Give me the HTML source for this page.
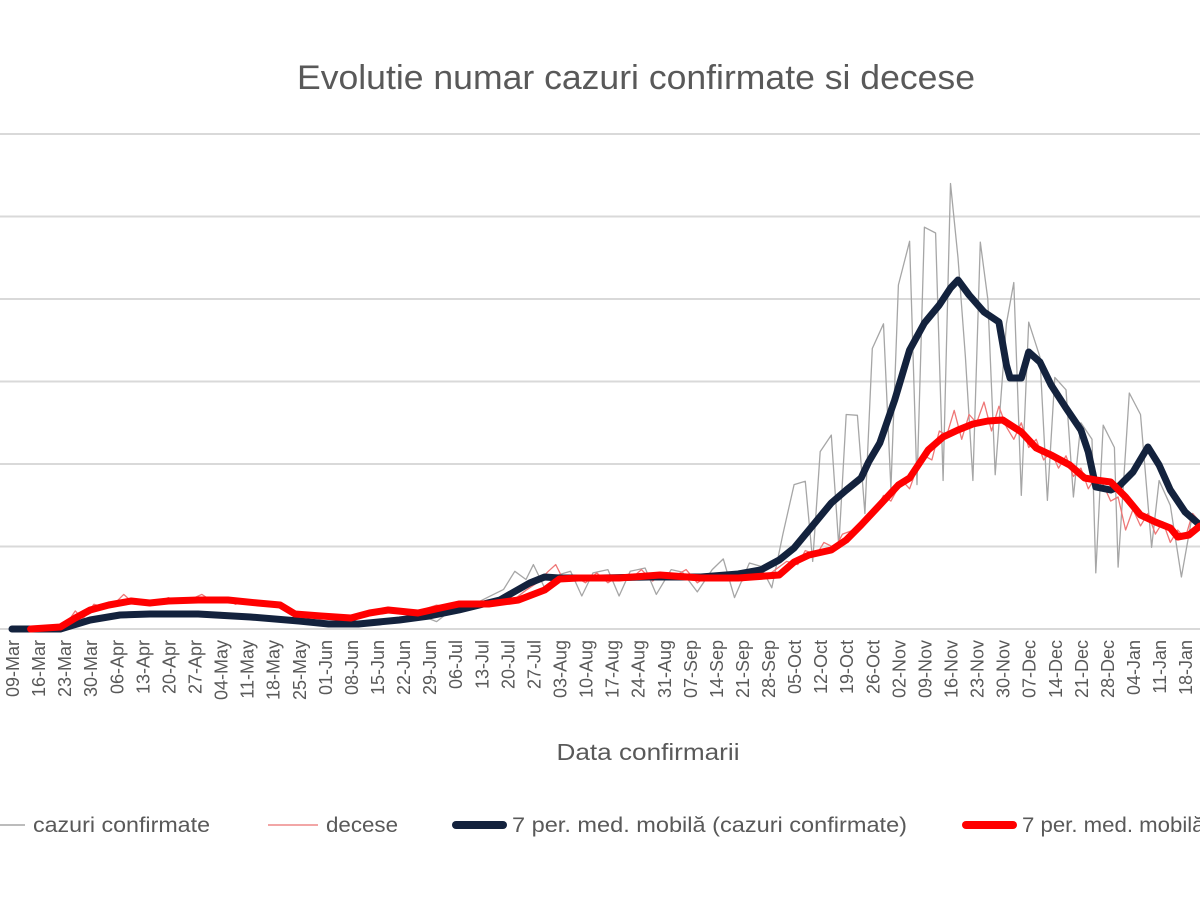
<!DOCTYPE html>
<html><head><meta charset="utf-8"><style>
html,body{margin:0;padding:0;background:#fff;width:1200px;height:900px;overflow:hidden}
svg{display:block}
text{font-family:"Liberation Sans",sans-serif;fill:#595959}
</style></head><body>
<svg id="chart" width="1200" height="900">
<text x="636" y="89" font-size="34" text-anchor="middle" textLength="678" lengthAdjust="spacingAndGlyphs">Evolutie numar cazuri confirmate si decese</text>
<g id="grid"></g>
<g id="series"></g>
<g id="xlabels"></g>
<text x="648" y="760" font-size="23" text-anchor="middle" textLength="183" lengthAdjust="spacingAndGlyphs">Data confirmarii</text>
<g>
<g><line x1="0" y1="825" x2="25" y2="825" stroke="#a6a6a6" stroke-width="1.5"/><text x="33" y="832" font-size="21" textLength="177" lengthAdjust="spacingAndGlyphs">cazuri confirmate</text></g>
<g><line x1="268" y1="825" x2="318" y2="825" stroke="#e88" stroke-width="1.5"/><text x="326" y="832" font-size="21" textLength="72" lengthAdjust="spacingAndGlyphs">decese</text></g>
<g><line x1="456" y1="825" x2="503" y2="825" stroke="#13223d" stroke-width="8" stroke-linecap="round"/><text x="512" y="832" font-size="21" textLength="395" lengthAdjust="spacingAndGlyphs">7 per. med. mobilă (cazuri confirmate)</text></g>
<g><line x1="966" y1="825" x2="1013" y2="825" stroke="#ff0000" stroke-width="8" stroke-linecap="round"/><text x="1022" y="832" font-size="21" textLength="275" lengthAdjust="spacingAndGlyphs">7 per. med. mobilă (decese)</text></g>
</g>
</svg>
<script>
const weekLabels=["09-Mar","16-Mar","23-Mar","30-Mar","06-Apr","13-Apr","20-Apr","27-Apr","04-May","11-May","18-May","25-May","01-Jun","08-Jun","15-Jun","22-Jun","29-Jun","06-Jul","13-Jul","20-Jul","27-Jul","03-Aug","10-Aug","17-Aug","24-Aug","31-Aug","07-Sep","14-Sep","21-Sep","28-Sep","05-Oct","12-Oct","19-Oct","26-Oct","02-Nov","09-Nov","16-Nov","23-Nov","30-Nov","07-Dec","14-Dec","21-Dec","28-Dec","04-Jan","11-Jan","18-Jan","25-Jan"];
const yTicks=[0,1000,2000,3000,4000,5000,6000];
const casesDays=[0,13,16,20,24,28,32,36,40,44,50,56,64,72,80,88,96,104,110,114,118,124,128,132,135,138,140,143,147,150,153,156,160,163,166,170,173,177,180,184,188,191,194,198,201,204,207,210,213,215,217,220,222,224,227,229,231,234,236,238,241,243,245,248,250,252,254,256,258,260,262,264,267,269,271,273,276,278,280,283,285,287,290,291,293,296,297,300,303,306,308,311,314,317,319];
const casesVals=[0,0,30,120,140,190,170,200,180,210,180,200,150,120,90,60,70,110,160,90,230,300,390,480,700,600,780,500,660,700,400,680,720,400,700,740,420,720,690,450,720,850,380,800,760,500,1150,1750,1790,820,2150,2350,1000,2600,2590,1400,3400,3700,1700,4170,4700,1750,4870,4800,1800,5400,4500,3300,1800,4690,4000,1870,3700,4200,1620,3720,3300,1560,3050,2900,1600,2500,2300,680,2470,2200,750,2860,2600,990,1800,1500,630,1400,1300];
const deathsDays=[10,14,17,19,22,25,28,30,33,36,39,42,45,48,51,54,57,60,63,66,69,72,75,78,82,86,90,94,98,102,106,110,114,118,122,126,130,134,138,141,144,146,148,151,154,157,160,163,166,169,172,175,178,181,184,187,190,193,196,199,202,205,208,211,213,216,218,221,223,226,229,232,234,236,239,241,243,245,247,249,251,253,255,257,259,261,263,265,267,269,271,273,275,277,279,281,283,285,287,289,291,293,295,297,299,301,303,305,307,309,311,313,315,317,319];
const deathsVals=[0,20,220,120,300,260,330,420,300,350,310,380,330,360,420,330,380,300,350,280,330,250,170,180,140,160,120,180,220,250,200,230,290,260,330,290,360,330,470,560,700,780,600,640,560,680,560,650,600,720,580,680,640,720,560,650,600,680,580,650,620,720,820,780,950,900,1050,980,1150,1200,1350,1450,1620,1550,1800,1700,1950,2100,2050,2400,2350,2650,2300,2600,2500,2750,2400,2700,2450,2300,2500,2200,2300,2050,2150,1950,2100,1850,1950,1700,1850,1750,1550,1600,1200,1450,1250,1400,1150,1300,1050,1200,1100,1400,1300];
const casesMaDays=[0,13,21,29,37,50,64,77,85,93,104,112,120,131,139,143,147,158,171,185,195,201,206,210,214,220,224,228,230,233,237,241,245,249,252,254,257,261,265,267,268,271,273,276,279,283,287,289,291,295,297,301,305,308,311,315,319];
const casesMaVals=[0,0,109,170,182,182,145,97,61,61,109,158,230,352,558,630,618,618,630,630,667,715,836,982,1200,1527,1684,1830,2024,2254,2776,3382,3709,3927,4133,4230,4048,3842,3721,3200,3042,3042,3357,3236,2957,2679,2412,2145,1721,1685,1721,1903,2206,1988,1685,1418,1260];
const deathsMaDays=[5,13,17,21,26,32,37,42,50,58,66,72,76,83,91,96,101,109,115,120,128,136,143,147,152,163,174,185,195,206,210,214,220,224,228,233,238,241,246,250,254,258,262,266,271,275,279,284,288,291,295,299,303,307,311,313,316,319];
const deathsMaVals=[0,24,133,230,291,339,315,339,352,352,315,291,182,158,133,194,230,194,255,303,303,352,473,606,618,618,655,618,618,655,812,897,958,1079,1260,1503,1745,1830,2170,2327,2412,2485,2521,2533,2388,2194,2109,1988,1830,1806,1782,1600,1382,1297,1224,1115,1139,1248];

const X0=12, DAY=26.07/7, Y0=629, UNIT=82.5/1000;
const xScale=d=>X0+d*DAY;
const yScale=v=>Y0-v*UNIT;
const NS="http://www.w3.org/2000/svg";
const grid=document.getElementById('grid');
yTicks.forEach(t=>{
  const l=document.createElementNS(NS,'line');
  l.setAttribute('x1',0);l.setAttribute('x2',1200);
  l.setAttribute('y1',yScale(t));l.setAttribute('y2',yScale(t));
  l.setAttribute('stroke','#d9d9d9');l.setAttribute('stroke-width','2');
  
  
  grid.appendChild(l);
});
const xl=document.getElementById('xlabels');
weekLabels.forEach((s,i)=>{
  const x=xScale(i*7);
  const t=document.createElementNS(NS,'text');
  t.setAttribute('transform',`translate(${x+7},640) rotate(-90)`);
  t.setAttribute('text-anchor','end');
  t.setAttribute('font-size','18');
  t.textContent=s;
  
  
  xl.appendChild(t);
});
const ser=document.getElementById('series');
function draw(days,vals,color,w,name){
  const p=document.createElementNS(NS,'polyline');
  p.setAttribute('points',days.map((d,i)=>xScale(d).toFixed(1)+','+yScale(vals[i]).toFixed(1)).join(' '));
  p.setAttribute('fill','none');p.setAttribute('stroke',color);p.setAttribute('stroke-width',w);
  p.setAttribute('stroke-linejoin','round');p.setAttribute('stroke-linecap','round');
  
  
  ser.appendChild(p);
}
draw(casesDays,casesVals,'#a6a6a6',1.3,'cases-line');
draw(deathsDays,deathsVals,'#ee7777',1.3,'deaths-line');
draw(casesMaDays,casesMaVals,'#13223d',7,'cases-moving-average-line');
draw(deathsMaDays,deathsMaVals,'#ff0000',7,'deaths-moving-average-line');
</script>
</body></html>
